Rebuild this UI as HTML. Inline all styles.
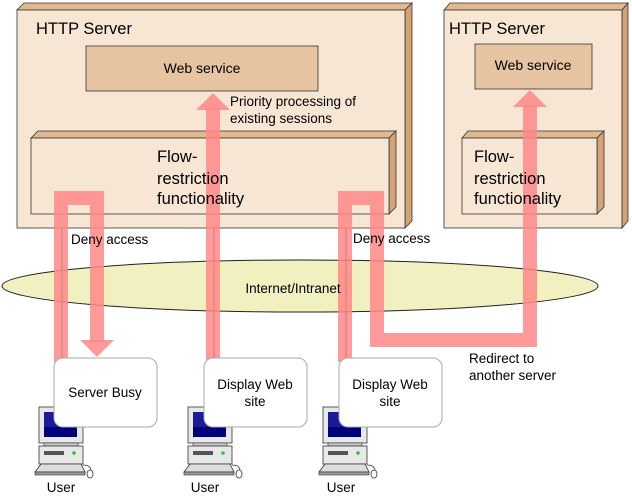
<!DOCTYPE html>
<html><head><meta charset="utf-8"><style>
body{margin:0;background:#fff}
svg{display:block;font-family:"Liberation Sans",sans-serif}
</style></head><body>
<svg width="632" height="499" viewBox="0 0 632 499">
<defs>
<g id="pc">
<rect x="0" y="0" width="44" height="36" fill="#e8e8e8" stroke="#333" stroke-width="0.8"/>
<rect x="5" y="5" width="33" height="25" fill="#1a1a9a"/>
<rect x="5" y="20" width="33" height="10" fill="#00007a"/>
<rect x="5" y="36" width="34" height="3" fill="#ccc" stroke="#333" stroke-width="0.6"/>
<rect x="0" y="39" width="44" height="18" fill="#e8e8e8" stroke="#333" stroke-width="0.8"/>
<rect x="5" y="44" width="20" height="4" fill="#555"/>
<circle cx="35" cy="46" r="1.8" fill="#2c2"/>
<polygon points="2,57 42,57 46,65 -4,65" fill="#ddd" stroke="#333" stroke-width="0.8"/>
<rect x="-4" y="65" width="50" height="3" fill="#999" stroke="#333" stroke-width="0.6"/>
<path d="M44,58 q8,0 8,6" fill="none" stroke="#333" stroke-width="0.8"/>
<ellipse cx="51" cy="67" rx="3" ry="4" fill="#fff" stroke="#333" stroke-width="0.8"/>
</g>
</defs>
<!-- left server -->
<polygon points="17,10 24,3 412,3 405,10" fill="#e2b98e" stroke="#333" stroke-width="0.8"/>
<polygon points="405,10 412,3 412,221 405,228" fill="#d4a373" stroke="#333" stroke-width="0.8"/>
<rect x="17" y="10" width="388" height="218" fill="#f8e6d4" stroke="#333" stroke-width="0.8"/>
<text x="36" y="34" font-size="16.5">HTTP Server</text>
<rect x="86" y="46" width="232" height="45" fill="#e6c4a2" stroke="#333" stroke-width="0.8"/>
<text x="202" y="73" font-size="14" text-anchor="middle">Web service</text>
<polygon points="31,138 38,131 396,131 389,138" fill="#e2b98e" stroke="#333" stroke-width="0.8"/>
<polygon points="389,138 396,131 396,207 389,214" fill="#d4a373" stroke="#333" stroke-width="0.8"/>
<rect x="31" y="138" width="358" height="76" fill="#f8e6d4" stroke="#333" stroke-width="0.8"/>
<!-- right server -->
<polygon points="444,10 450,3 628,3 622,10" fill="#e2b98e" stroke="#333" stroke-width="0.8"/>
<polygon points="622,10 628,3 628,221 622,228" fill="#d4a373" stroke="#333" stroke-width="0.8"/>
<rect x="444" y="10" width="178" height="218" fill="#f8e6d4" stroke="#333" stroke-width="0.8"/>
<text x="449" y="34" font-size="16.5">HTTP Server</text>
<rect x="475" y="44" width="117" height="45" fill="#e6c4a2" stroke="#333" stroke-width="0.8"/>
<text x="533" y="70" font-size="14" text-anchor="middle">Web service</text>
<polygon points="462,138 468,131 604,131 597,138" fill="#e2b98e" stroke="#333" stroke-width="0.8"/>
<polygon points="597,138 604,131 604,207 597,214" fill="#d4a373" stroke="#333" stroke-width="0.8"/>
<rect x="462" y="138" width="135" height="76" fill="#f8e6d4" stroke="#333" stroke-width="0.8"/>
<!-- ellipse -->
<ellipse cx="300" cy="286" rx="298" ry="26" fill="#f0f0c0" stroke="#222" stroke-width="1"/>
<!-- thin lines -->
<g stroke="#111" stroke-width="1">
<line x1="62" y1="228" x2="62" y2="360"/>
<line x1="214" y1="228" x2="214" y2="360"/>
<line x1="346" y1="228" x2="346" y2="360"/>
</g>
<!-- pink arrows -->
<g fill="none" stroke="#f88" stroke-opacity="0.85" stroke-width="14">
<polyline points="61,362 61,198 97,198 97,342"/>
<line x1="213" y1="362" x2="213" y2="108"/>
<polyline points="345,362 345,198 377,198 377,340 530,340 530,105"/>
</g>
<g fill="#f88" fill-opacity="0.85">
<polygon points="80,340 114,340 97,357"/>
<polygon points="196,110 230,110 213,93"/>
<polygon points="513,107 547,107 530,90"/>
</g>
<!-- texts over arrows -->
<text font-size="16.5"><tspan x="157" y="162">Flow-</tspan><tspan x="157" y="184">restriction</tspan><tspan x="157" y="204">functionality</tspan></text>
<text font-size="16.5"><tspan x="474" y="162">Flow-</tspan><tspan x="474" y="184">restriction</tspan><tspan x="474" y="204">functionality</tspan></text>
<text x="293" y="293" font-size="13.5" text-anchor="middle">Internet/Intranet</text>
<!-- labels -->
<g font-size="13.5">
<text x="71" y="244">Deny access</text>
<text x="353" y="243">Deny access</text>
<text x="230" y="106">Priority processing of</text>
<text x="230" y="123">existing sessions</text>
<text x="469" y="363">Redirect to</text>
<text x="469" y="380">another server</text>
</g>
<!-- computers -->
<use href="#pc" x="39" y="407"/>
<use href="#pc" x="188" y="407"/>
<use href="#pc" x="323" y="407"/>
<!-- callouts -->
<g fill="#fff" stroke="#aaa" stroke-width="1">
<rect x="54" y="358" width="103" height="69" rx="9"/>
<rect x="204" y="358" width="103" height="69" rx="9"/>
<rect x="339" y="358" width="103" height="69" rx="9"/>
</g>
<g font-size="13.5" text-anchor="middle">
<text x="105" y="397">Server Busy</text>
<text x="255" y="389">Display Web</text><text x="255" y="406">site</text>
<text x="390" y="389">Display Web</text><text x="390" y="406">site</text>
<text x="61" y="492">User</text>
<text x="205" y="492">User</text>
<text x="341" y="492">User</text>
</g>
</svg>
</body></html>
